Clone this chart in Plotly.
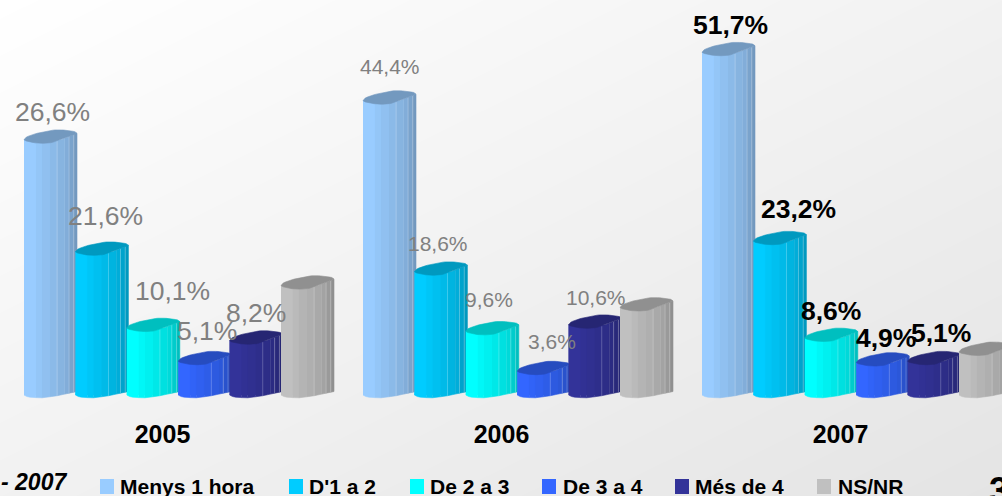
import numpy as np
import plotly.graph_objects as go

# ---------- data ----------
YEARS = ["2005", "2006", "2007"]
SERIES = ["Menys 1 hora", "D'1 a 2", "De 2 a 3", "De 3 a 4", "Més de 4", "NS/NR"]
MENYS_1_HORA = [38.5, 44.4, 51.7]
DE_1_A_2 = [21.6, 18.6, 23.2]
DE_2_A_3 = [10.1, 9.6, 8.6]
DE_3_A_4 = [5.1, 3.6, 4.9]
MES_DE_4 = [8.2, 10.6, 5.1]
NS_NR = [16.5, 13.2, 6.5]
LABELS_2005 = ["26,6%", "21,6%", "10,1%", "5,1%", "8,2%"]
LABELS_2006 = ["44,4%", "18,6%", "9,6%", "3,6%", "10,6%"]
LABELS_2007 = ["51,7%", "23,2%", "8,6%", "4,9%", "5,1%"]
COLORS = ["#99CCFF", "#00CCFF", "#00FFFF", "#3366FF", "#333399", "#C0C0C0"]

# ---------- layout ----------
W, H = 1002, 496
FONT = "Liberation Sans, Arial, sans-serif"
GROUP_PX = 339.0
PITCH_PX = 51.4
BAR_PX = 53.0
G0_LEFT_PX = 24.0
BASE_PX = 395.0
PX_PER_UNIT = 6.63
X_MIN = -G0_LEFT_PX / GROUP_PX
X_MAX = (W - G0_LEFT_PX) / GROUP_PX
Y_MAX = BASE_PX / PX_PER_UNIT
Y_MIN = -(H - BASE_PX) / PX_PER_UNIT
dxu = 1 / GROUP_PX
dyu = 1 / PX_PER_UNIT

# cylinder profile: pixel offsets (up is positive) across the bar width
TOP_BACK = ([0, .04, .12, .25, .45, .62, .82, .97, 1.0], [0, 2.5, 4.5, 6.5, 9, 10, 9.5, 8, 6.5])
TOP_FRONT = ([0, .05, .25, .45, .6, 1.0], [0, -1.5, -3.5, -3.5, -2, 6.5])
BOTTOM = ([0, .05, .15, .35, .6, 1.0], [0, -1.5, -2.5, -2.8, -1, 3.5])
STRIP_EDGES = [0, .225, .34, .49, .625, .77, .85, .94, 1.0]
STRIP_SHADE = [1.0, .97, .94, .91, .88, .85, .80, .75]
SEPARATORS = [.625, .85, .94]
TOP_SHADE = .75


def shade(hexcolor, f):
    r, g, b = (int(hexcolor[i:i + 2], 16) for i in (1, 3, 5))
    return f"rgb({r * f:.0f},{g * f:.0f},{b * f:.0f})"


def ux(group, s, u):
    return group + (s * PITCH_PX + u * BAR_PX) * dxu


fig = go.Figure()

# soft diagonal page background
bx = np.linspace(X_MIN, X_MAX, 25)
by = np.linspace(Y_MIN, Y_MAX, 13)
bz = [[255 - 27 * (0.5 * (i / 24) + 0.5 * (1 - j / 12)) for i in range(25)] for j in range(13)]
fig.add_trace(go.Heatmap(x=bx, y=by, z=bz, zmin=0, zmax=255, zsmooth="best", showscale=False,
                         colorscale=[[0, "#000000"], [1, "#ffffff"]], hoverinfo="skip"))

VALUES = [MENYS_1_HORA, DE_1_A_2, DE_2_A_3, DE_3_A_4, MES_DE_4, NS_NR]
for s, (name, vals, col) in enumerate(zip(SERIES, VALUES, COLORS)):
    # the bar itself, its round faces and shading go on top
    fig.add_trace(go.Bar(name=name, x=[g + s * PITCH_PX * dxu for g in range(3)], y=vals,
                         width=0.7 * BAR_PX * dxu, offset=0, marker=dict(color=col, line_width=0),
                         showlegend=False))
    for k, f in enumerate(STRIP_SHADE):
        xs, ys = [], []
        us = np.linspace(STRIP_EDGES[k], STRIP_EDGES[k + 1], 5)
        for g, v in enumerate(vals):
            top = v + np.interp(us, *TOP_FRONT) * dyu
            bot = np.interp(us, *BOTTOM) * dyu
            xs += [ux(g, s, u) for u in us] + [ux(g, s, u) for u in us[::-1]] + [None]
            ys += list(top) + list(bot[::-1]) + [None]
        c = shade(col, f)
        fig.add_trace(go.Scatter(x=xs, y=ys, mode="lines", fill="toself", fillcolor=c,
                                 line=dict(color=c, width=0.6), hoverinfo="skip", showlegend=False))
    # separators
    xs, ys = [], []
    for g, v in enumerate(vals):
        for u in SEPARATORS:
            xs += [ux(g, s, u), ux(g, s, u), None]
            ys += [float(np.interp(u, *BOTTOM)) * dyu, v + float(np.interp(u, *TOP_FRONT)) * dyu, None]
    fig.add_trace(go.Scatter(x=xs, y=ys, mode="lines", line=dict(color="rgba(255,255,255,0.3)", width=0.8),
                             hoverinfo="skip", showlegend=False))
    # top face
    xs, ys = [], []
    us = np.linspace(0, 1, 25)
    for g, v in enumerate(vals):
        xs += [ux(g, s, u) for u in us] + [ux(g, s, u) for u in us[::-1]] + [None]
        ys += list(v + np.interp(us, *TOP_BACK) * dyu) + list(v + np.interp(us[::-1], *TOP_FRONT) * dyu) + [None]
    c = shade(col, TOP_SHADE)
    fig.add_trace(go.Scatter(x=xs, y=ys, mode="lines", fill="toself", fillcolor=c,
                             line=dict(color=c, width=0.6), hoverinfo="skip", showlegend=False))

# value labels: centre position in page pixels
LABEL_POS_2005 = [(52, 112), (105, 216), (172, 291), (207, 331), (256, 313)]
LABEL_POS_2006 = [(390, 67), (438, 243), (489, 299), (552, 341), (596, 297)]
LABEL_POS_2007 = [(730, 25), (798, 209), (831, 311), (886, 338), (941, 333)]
annotations = []


def page_text(text, x, y, size, color="#000000", bold=False, italic=False, anchor="center"):
    t = f"<b>{text}</b>" if bold else text
    t = f"<i>{t}</i>" if italic else t
    annotations.append(dict(text=t, x=x / W, y=1 - y / H, xref="paper", yref="paper", xanchor=anchor,
                            yanchor="middle", showarrow=False, borderpad=0,
                            font=dict(family=FONT, size=size, color=color)))


for t, p in zip(LABELS_2005, LABEL_POS_2005):
    page_text(t, p[0], p[1], 26.5, "#808080")
for t, p in zip(LABELS_2006, LABEL_POS_2006):
    page_text(t, p[0], p[1], 21, "#808080")
for t, p in zip(LABELS_2007, LABEL_POS_2007):
    page_text(t, p[0], p[1], 26.5, "#000000", bold=True)

# legend row
SWATCH_X = [100, 289, 410, 542, 675, 817]
TEXT_X = [118.5, 307.5, 428.5, 561.5, 693.5, 836.5]
shapes = []
for name, col, sx, tx in zip(SERIES, COLORS, SWATCH_X, TEXT_X):
    shapes.append(dict(type="rect", xref="paper", yref="paper", x0=sx / W, x1=(sx + 14) / W,
                       y0=1 - 494 / H, y1=1 - 479 / H, fillcolor=col, line_width=0, layer="above"))
    page_text(name, tx, 486, 21, bold=True, anchor="left")

page_text("- 2007", 0, 482, 23, bold=True, italic=True, anchor="left")
page_text("3", 988, 490, 36, bold=True, anchor="left")

fig.update_layout(
    width=W, height=H, margin=dict(l=0, r=0, t=0, b=0), autosize=False,
    paper_bgcolor="#f4f4f4", plot_bgcolor="rgba(0,0,0,0)", barmode="overlay", showlegend=False,
    annotations=annotations, shapes=shapes,
    xaxis=dict(range=[X_MIN, X_MAX], domain=[0, 1], anchor="free", position=(H - BASE_PX) / H,
               showgrid=False, zeroline=False, showline=False,
               tickmode="array", tickvals=[g + 138.5 * dxu for g in range(3)], ticktext=YEARS,
               ticks="outside", ticklen=17, tickcolor="rgba(0,0,0,0)",
               tickfont=dict(family=FONT, size=25, color="#000000", weight="bold")),
    yaxis=dict(range=[Y_MIN, Y_MAX], domain=[0, 1], visible=False),
)

fig.write_html("out.html", config={"displayModeBar": False},
               post_script="document.body.style.margin='0';document.body.style.overflow='hidden';")
